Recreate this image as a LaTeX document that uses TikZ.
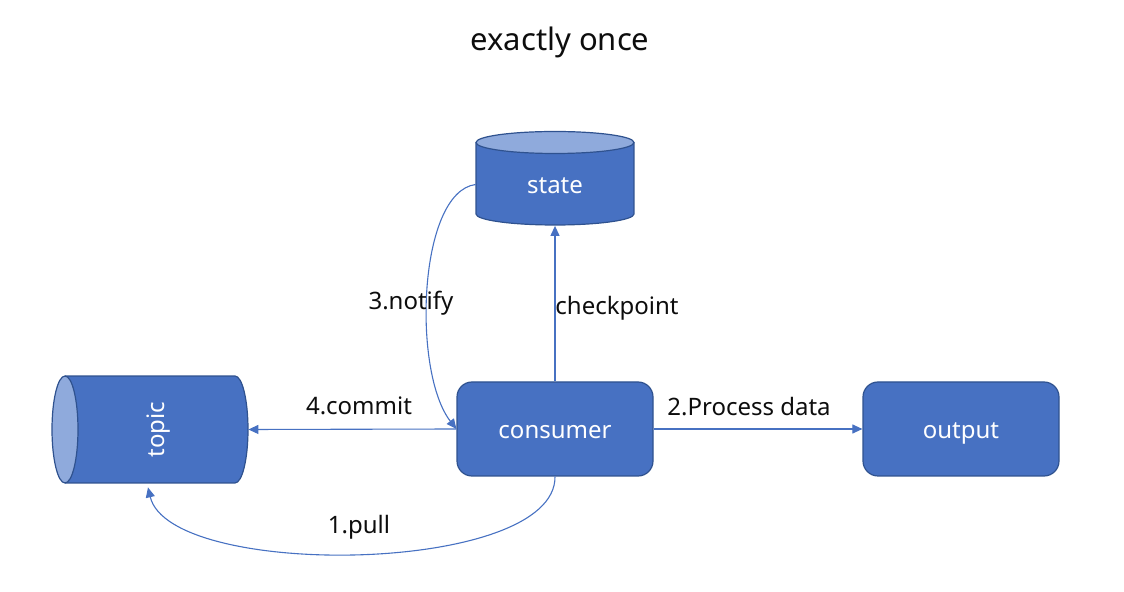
\documentclass[tikz,border=0pt]{standalone}
\usepackage{fontspec}
\setmainfont{Noto Sans}
\usepackage{tikz}
\usetikzlibrary{arrows.meta,positioning,calc}
\usepackage{xcolor}
\definecolor{officeblue}{HTML}{4771C2}
\definecolor{darkblue}{HTML}{2F528F}
\definecolor{capblue}{HTML}{8FAADC}
\definecolor{labelgray}{HTML}{0D0D0D}

\begin{document}
\begin{tikzpicture}[x=0.5pt, y=-0.5pt, >={Triangle[length=5pt,width=4.5pt]},
  box/.style={rectangle, rounded corners=7.5pt, draw=darkblue, line width=0.6pt, fill=officeblue,
    minimum width=98pt, minimum height=47pt, text=white, text height=12pt, text depth=2.5pt,
    font=\fontsize{12}{14}\selectfont},
  ghost/.style={rectangle, inner sep=0pt},
  conn/.style={->, officeblue, line width=0.55pt},
  lbl/.style={text=labelgray, font=\fontsize{12}{14}\selectfont, inner sep=1pt}]
  \useasboundingbox (0,0) rectangle (1124,592);

  % title
  \node[text=labelgray, font=\fontsize{15.5}{18}\selectfont] (title) at (560,42) {exactly once};

  % topic (lying cylinder)
  \fill[officeblue] (65,376) rectangle (235,483);
  \fill[officeblue] (235,429.5) ellipse (13 and 53.5);
  \draw[darkblue, line width=0.6pt] (65,376) -- (235,376) arc (-90:90:13 and 53.5) -- (65,483);
  \draw[darkblue, line width=0.6pt, fill=capblue] (65,429.5) ellipse (13 and 53.5);
  \node[ghost, minimum width=98pt, minimum height=53.5pt] (topic) at (150,429.5) {};
  \node[rotate=90, text=white, font=\fontsize{12}{14}\selectfont] (topiclbl) at (159,429.5) {topic};

  % state (standing cylinder)
  \fill[officeblue] (476,142.5) rectangle (634,214);
  \fill[officeblue] (555,214) ellipse (79 and 11);
  \draw[darkblue, line width=0.6pt] (476,142.5) -- (476,214) arc (180:0:79 and 11) -- (634,142.5);
  \draw[darkblue, line width=0.6pt, fill=capblue] (555,142.5) ellipse (79 and 11);
  \node[ghost, minimum width=79pt, minimum height=41pt] (state) at (555,184.5) {};
  \node[text=white, font=\fontsize{12}{14}\selectfont] (statelbl) at (555,186) {state};

  % boxes
  \node[box] (consumer) at (555,429) {consumer};
  \node[box] (output) at (961,429) {output};

  % connectors
  \draw[conn] (consumer.north) -- (state.south);
  \draw[conn] (consumer.east) -- (output.west);
  \draw[conn] (consumer.west) -- (topic.east);
  \draw[conn] (state.west) .. controls (418,192) and (412,372) .. (consumer.west);
  \draw[conn] (consumer.south) .. controls (556,575) and (170,580) .. ([xshift=-1pt,yshift=-2pt]topic.south);

  % labels
  \node[lbl] (lcheck) at (617,308) {checkpoint};
  \node[lbl] (lproc) at (749,407) {2.Process data};
  \node[lbl] (lcommit) at (359,406) {4.commit};
  \node[lbl] (lnotify) at (411,303) {3.notify};
  \node[lbl] (lpull) at (359,527) {1.pull};
\end{tikzpicture}
\end{document}
